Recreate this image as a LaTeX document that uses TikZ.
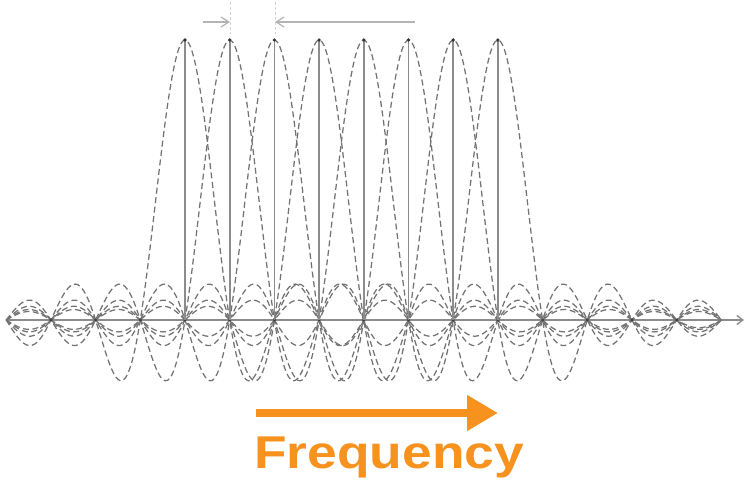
\documentclass[tikz,border=0pt]{standalone}
\usepackage{fontspec}
\usepackage{graphicx}
\setmainfont{Liberation Sans}
\usetikzlibrary{arrows.meta}
\definecolor{curvegray}{RGB}{115,115,115}
\definecolor{axisgray}{RGB}{140,140,140}
\definecolor{dimgraycol}{RGB}{180,180,180}
\definecolor{freqorange}{RGB}{247,146,30}
\tikzset{
  sinccurve/.style={draw=curvegray, line width=1.25pt, dash pattern=on 6pt off 3.5pt},
  stem/.style={draw=axisgray, line width=1.6pt},
  axisline/.style={draw=axisgray, line width=1.4pt, -{Straight Barb[length=6pt,width=9pt]}},
  dimline/.style={draw=dimgraycol, line width=1.2pt},
  dimarrow/.style={dimline, -{Straight Barb[length=8pt,width=10pt]}},
  extline/.style={draw=dimgraycol!60, line width=0.8pt, dash pattern=on 3pt off 2pt},
  crossdot/.style={fill=black!75},
  freqarrow/.style={draw=freqorange, line width=8pt, -{Triangle[length=31pt,width=34pt]}},
  freqtext/.style={text=freqorange, font=\bfseries\fontsize{46}{50}\selectfont, inner sep=0pt}
}
\begin{document}
\begin{tikzpicture}[x=1pt,y=-1pt]
\useasboundingbox (0,0) rectangle (745,489);
\def\dd{44.7}
\def\fz{185}
\def\base{320}
\def\amp{280}
% axis
\coordinate (axL) at (6,\base);
\coordinate (axR) at (744,\base);
\draw[axisline] (axL) -- (axR);
% sinc curves
\foreach \k in {0,...,7}{
  \draw[sinccurve] plot[domain=-4-\k:12-\k, samples=320, smooth]
    ({\fz+\dd*(\k+\x)}, {\base-\amp*sin(180*\x)/(pi*\x)});
}
% dark crossing points on the axis
\foreach \j in {-3,...,11}{
  \coordinate (cross\j) at ({\fz+\dd*\j},\base);
  \fill[crossdot] (cross\j) circle (1.6pt);
}
% stems
\foreach \k in {0,...,7}{
  \coordinate (top\k) at ({\fz+\dd*\k},40);
  \coordinate (bot\k) at ({\fz+\dd*\k},\base);
  \draw[stem] (bot\k) -- (top\k);
  \fill[black!80] (top\k) circle (1.8pt);
}
% dimension arrow
\coordinate (dimL) at (203,22);
\coordinate (dimA) at (230,22);
\coordinate (dimB) at (275,22);
\coordinate (dimR) at (415,22);
\coordinate (extA1) at (230,2);
\coordinate (extA2) at (230,34);
\coordinate (extB1) at (275,2);
\coordinate (extB2) at (275,34);
\draw[extline] (extA1) -- (extA2);
\draw[extline] (extB1) -- (extB2);
\draw[dimarrow] (dimL) -- (dimA);
\draw[dimarrow] (dimR) -- (dimB);
% frequency arrow
\coordinate (fa1) at (256,413);
\coordinate (fa2) at (498,413);
\draw[freqarrow] (fa1) -- (fa2);
\node[freqtext, anchor=base west] (freq) at (254,468) {\scalebox{1.16}[1]{Frequency}};
\end{tikzpicture}
\end{document}
